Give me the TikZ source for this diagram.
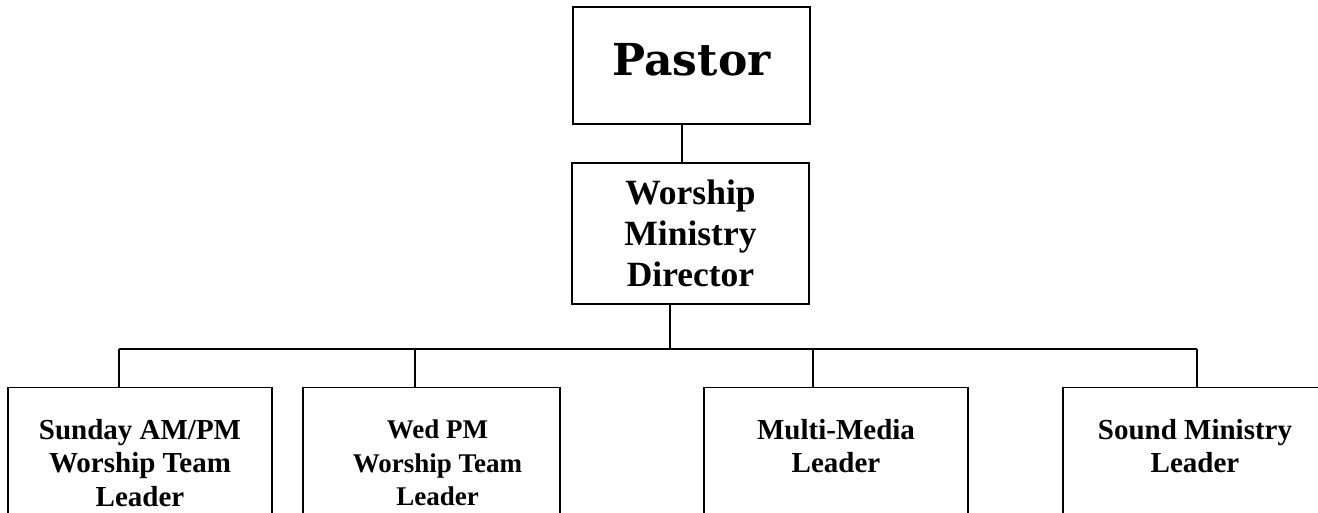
\documentclass[tikz,border=0pt]{standalone}
\usepackage{fontspec}
\setmainfont{Liberation Serif}
\newfontfamily\pastorfont{DejaVu Serif}
\usetikzlibrary{positioning, calc}
\definecolor{LineBlack}{RGB}{0,0,0}
\tikzset{
  every node/.style={font=\bfseries},
  link/.style={line width=1.3pt, LineBlack},
  chartbox/.style={draw=LineBlack, line width=1.3pt, minimum width=237pt,
                   align=center, inner sep=0pt},
  leadbox/.style={draw=LineBlack, line width=1.3pt, minimum height=200pt,
                  anchor=north, inner sep=0pt},
  leadtext/.style={font=\bfseries\fontsize{29}{33.5}\selectfont,
                   align=center, anchor=north, inner sep=0pt}
}

\begin{document}
\begin{tikzpicture}[x=1pt,y=1pt]

\clip (0,0) rectangle (1318,512);

% Top of the chart
\node[chartbox, minimum height=117pt] (pastor) at (691.5,446.5) {};
\node[font=\pastorfont\bfseries\fontsize{44}{50}\selectfont] (pastortext)
  at ([yshift=6pt]pastor.center) {Pastor};
\node[chartbox, minimum height=141pt,
      font=\bfseries\fontsize{35.5}{41}\selectfont] (director) at (690.5,278.5)
  {Worship\\Ministry\\Director};

% Leader boxes (run off the bottom edge)
\node[leadbox, minimum width=264pt] (sunday) at (140,125) {};
\node[leadbox, minimum width=257pt] (wed) at (431.5,125) {};
\node[leadbox, minimum width=264pt] (media) at (836,125) {};
\node[leadbox, minimum width=264pt] (sound) at (1195,125) {};

\node[leadtext] (sundaytext) at ([yshift=-32pt]sunday.north) {Sunday AM/PM\\Worship Team\\Leader};
\node[leadtext, font=\bfseries\fontsize{27}{33.5}\selectfont] (wedtext)
  at ([xshift=6pt,yshift=-33pt]wed.north) {Wed PM\\Worship Team\\Leader};
\node[leadtext] (mediatext) at ([yshift=-32pt]media.north) {Multi-Media\\Leader};
\node[leadtext] (soundtext) at ([yshift=-32pt]sound.north) {Sound Ministry\\Leader};

% Connectors
\coordinate (dropA) at (119,163);
\coordinate (dropB) at (415,163);
\coordinate (dropC) at (813,163);
\coordinate (dropD) at (1197,163);

\draw[link] ([xshift=-9.5pt]pastor.south) -- ([xshift=-9.5pt]pastor.south |- director.north);
\draw[link] ([xshift=-20.5pt]director.south) -- ([xshift=-20.5pt]director.south |- dropA);
\draw[link] (dropA) -- (dropD);
\draw[link] (dropA) -- (dropA |- sunday.north);
\draw[link] (dropB) -- (dropB |- wed.north);
\draw[link] (dropC) -- (dropC |- media.north);
\draw[link] (dropD) -- (dropD |- sound.north);

\end{tikzpicture}
\end{document}
